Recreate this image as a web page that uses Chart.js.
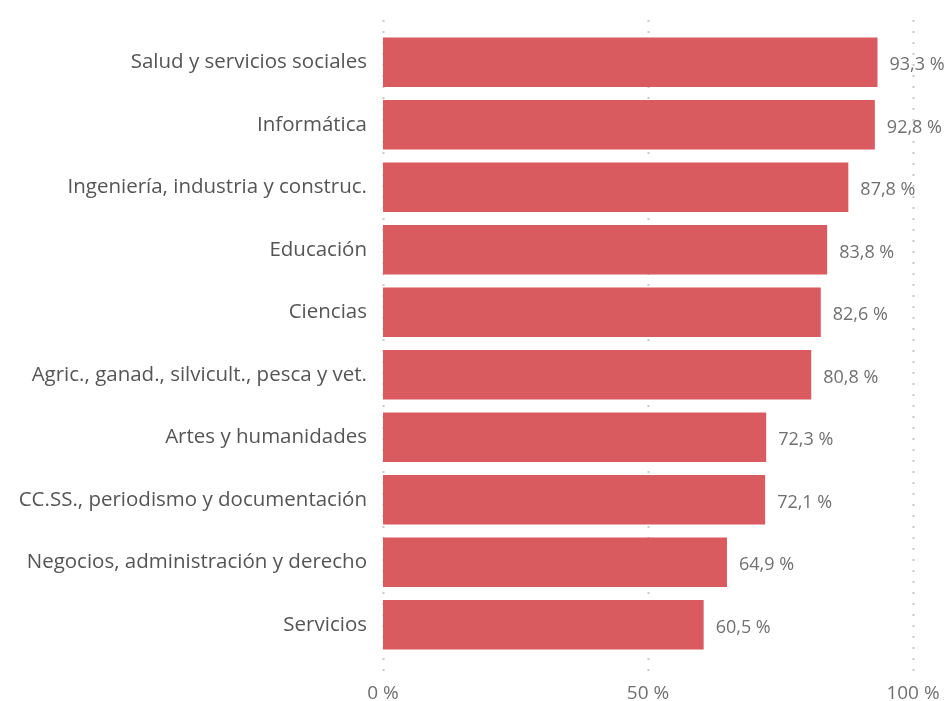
<!DOCTYPE html>
<html>
<head>
<meta charset="utf-8">
<script src="https://cdn.jsdelivr.net/npm/chart.js@4.4.1/dist/chart.umd.min.js"></script>
<style>
	html, body { margin: 0; padding: 0; background: #fff; }
	#wrap { width: 946px; height: 701px; }
</style>
</head>
<body>
<div id="wrap"><canvas id="barChart" width="946" height="701"></canvas></div>
<script>
// Chart data
const categories = [
	"Salud y servicios sociales",
	"Informática",
	"Ingeniería, industria y construc.",
	"Educación",
	"Ciencias",
	"Agric., ganad., silvicult., pesca y vet.",
	"Artes y humanidades",
	"CC.SS., periodismo y documentación",
	"Negocios, administración y derecho",
	"Servicios",
];
const values = [93.3, 92.8, 87.8, 83.8, 82.6, 80.8, 72.3, 72.1, 64.9, 60.5];
const xTicks = [0, 50, 100];

const FONT = "'Open Sans', 'Noto Sans', sans-serif";

// Dotted vertical gridlines, a bit taller than the plot area
const dottedGrid = {
	id: "dottedGrid",
	beforeDatasetsDraw: function (chart) {
		const ctx = chart.ctx;
		const xScale = chart.scales.x;
		const area = chart.chartArea;
		ctx.save();
		ctx.strokeStyle = "#c8c8c8";
		ctx.lineWidth = 2;
		ctx.setLineDash([2, 9]);
		xTicks.forEach((t) => {
			const x = Math.round(xScale.getPixelForValue(t)) + 0.5;
			ctx.beginPath();
			ctx.moveTo(x, area.top - 11);
			ctx.lineTo(x, area.bottom + 18);
			ctx.stroke();
		});
		ctx.restore();
	},
};

// Value labels to the right of each bar
const valueLabels = {
	id: "valueLabels",
	afterDatasetsDraw: function (chart) {
		const ctx = chart.ctx;
		const meta = chart.getDatasetMeta(0);
		ctx.save();
		ctx.font = "18px " + FONT;
		ctx.fillStyle = "#707070";
		ctx.textAlign = "left";
		ctx.textBaseline = "middle";
		meta.data.forEach((bar, i) => {
			const txt = values[i].toFixed(1).replace(".", ",") + " %";
			ctx.fillText(txt, bar.x + 12, bar.y + 3);
		});
		ctx.restore();
	},
};

const chart = new Chart(document.getElementById("barChart").getContext("2d"), {
	type: "bar",
	data: {
		labels: categories,
		datasets: [
			{
				data: values,
				backgroundColor: "#d95b5f",
				borderWidth: 0,
				barPercentage: 0.79,
				categoryPercentage: 1,
			},
		],
	},
	options: {
		indexAxis: "y",
		responsive: false,
		animation: false,
		layout: {
			padding: { top: 31, right: 33, bottom: 0, left: 0 },
		},
		scales: {
			x: {
				min: 0,
				max: 100,
				afterBuildTicks: (scale) => {
					scale.ticks = xTicks.map((v) => ({ value: v }));
				},
				afterFit: (scale) => {
					scale.height = 45;
					scale.paddingLeft = 0;
					scale.paddingRight = 0;
				},
				grid: { display: false, drawTicks: false },
				border: { display: false },
				ticks: {
					padding: 26,
					color: "#707070",
					font: { family: FONT, size: 19 },
					callback: (v) => v + " %",
				},
			},
			y: {
				afterFit: (scale) => {
					scale.width = 383;
				},
				grid: { display: false, drawTicks: false },
				border: { display: false },
				ticks: {
					padding: 16,
					color: "#555555",
					font: { family: FONT, size: 20.5 },
				},
			},
		},
		plugins: {
			legend: { display: false },
			tooltip: { enabled: false },
		},
	},
	plugins: [dottedGrid, valueLabels],
});
</script>
</body>
</html>
